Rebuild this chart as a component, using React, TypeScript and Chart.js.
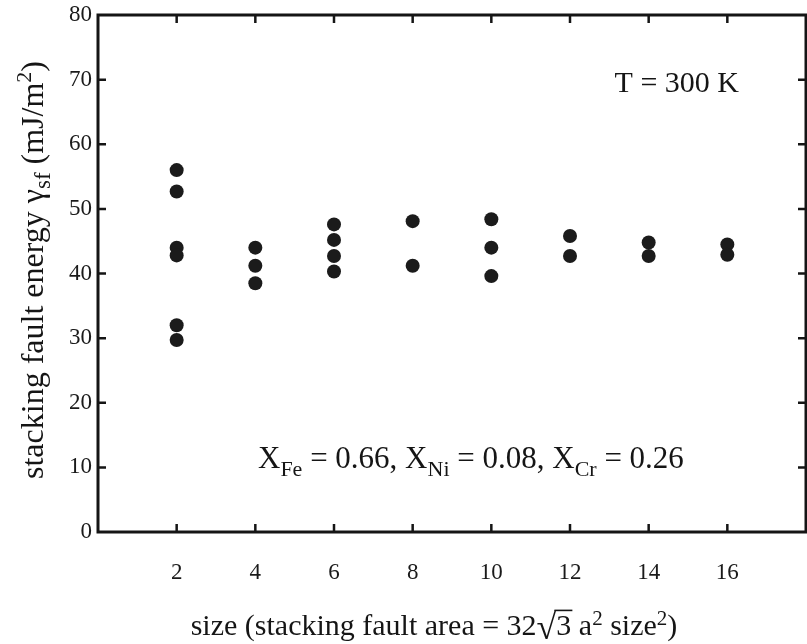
import React, { useEffect, useRef } from "react";
import { Chart, registerables } from "chart.js";

Chart.register(...registerables);

// Stacking fault energy (mJ/m^2) sampled at each fault size, T = 300 K
const faultSizes = [2, 4, 6, 8, 10, 12, 14, 16];
const gammaSize2 = [56.0, 52.7, 44.0, 42.8, 32.0, 29.7];
const gammaSize4 = [44.0, 41.2, 38.5];
const gammaSize6 = [47.6, 45.2, 42.7, 40.3];
const gammaSize8 = [48.1, 41.2];
const gammaSize10 = [48.4, 44.0, 39.6];
const gammaSize12 = [45.8, 42.7];
const gammaSize14 = [44.8, 42.7];
const gammaSize16 = [44.5, 42.9];
const gammaBySize = [
  gammaSize2,
  gammaSize4,
  gammaSize6,
  gammaSize8,
  gammaSize10,
  gammaSize12,
  gammaSize14,
  gammaSize16,
];

const xTickValues = [2, 4, 6, 8, 10, 12, 14, 16];
const yTickValues = [0, 10, 20, 30, 40, 50, 60, 70, 80];

const SERIF = "'Liberation Serif', 'Times New Roman', serif";
const INK = "#151515";

type Seg = { t: string; size: number; dy?: number; over?: boolean };

function segWidth(ctx: CanvasRenderingContext2D, segs: Seg[]) {
  let w = 0;
  for (const s of segs) {
    ctx.font = `${s.size}px ${SERIF}`;
    w += ctx.measureText(s.t).width;
  }
  return w;
}

// Draws a run of text pieces with sub/superscript offsets along the baseline
function drawRich(
  ctx: CanvasRenderingContext2D,
  segs: Seg[],
  x: number,
  y: number,
  align: "left" | "center" | "right"
) {
  const total = segWidth(ctx, segs);
  let cx = align === "left" ? x : align === "center" ? x - total / 2 : x - total;
  ctx.textAlign = "left";
  ctx.textBaseline = "alphabetic";
  for (const s of segs) {
    ctx.font = `${s.size}px ${SERIF}`;
    const w = ctx.measureText(s.t).width;
    ctx.fillText(s.t, cx, y + (s.dy || 0));
    if (s.over) {
      ctx.save();
      ctx.lineWidth = 1.6;
      ctx.beginPath();
      ctx.moveTo(cx - 2, y - s.size * 0.82);
      ctx.lineTo(cx + w + 1, y - s.size * 0.82);
      ctx.stroke();
      ctx.restore();
    }
    cx += w;
  }
}

const framePlugin = {
  id: "frameAndLabels",
  afterDraw(chart: any) {
    const { ctx, chartArea } = chart;
    const xs = chart.scales.x;
    const ys = chart.scales.y;
    const { left, right, top, bottom } = chartArea;
    ctx.save();
    ctx.strokeStyle = INK;
    ctx.fillStyle = INK;

    // box
    ctx.lineWidth = 3;
    ctx.strokeRect(left, top, right - left, bottom - top);

    // inward ticks
    const tl = 8;
    ctx.lineWidth = 2.5;
    ctx.beginPath();
    for (const v of xTickValues) {
      const px = xs.getPixelForValue(v);
      ctx.moveTo(px, bottom);
      ctx.lineTo(px, bottom - tl);
      ctx.moveTo(px, top);
      ctx.lineTo(px, top + tl);
    }
    for (const v of yTickValues) {
      if (v === 0 || v === 80) continue;
      const py = ys.getPixelForValue(v);
      ctx.moveTo(left, py);
      ctx.lineTo(left + tl, py);
      ctx.moveTo(right, py);
      ctx.lineTo(right - tl, py);
    }
    ctx.stroke();

    // y axis title
    ctx.save();
    ctx.translate(43, 270);
    ctx.rotate(-Math.PI / 2);
    drawRich(
      ctx,
      [
        { t: "stacking fault energy γ", size: 32 },
        { t: "sf", size: 23, dy: 7 },
        { t: " (mJ/m", size: 32 },
        { t: "2", size: 22, dy: -12 },
        { t: ")", size: 32 },
      ],
      0,
      0,
      "center"
    );
    ctx.restore();

    // x axis title
    drawRich(
      ctx,
      [
        { t: "size (stacking fault area = 32", size: 30 },
        { t: "√", size: 36, dy: 4 },
        { t: "3", size: 30, over: true },
        { t: " a", size: 30 },
        { t: "2", size: 21, dy: -10 },
        { t: " size", size: 30 },
        { t: "2", size: 21, dy: -10 },
        { t: ")", size: 30 },
      ],
      434,
      635,
      "center"
    );

    // temperature note
    drawRich(ctx, [{ t: "T = 300 K", size: 30 }], 739, 92, "right");

    // composition note
    drawRich(
      ctx,
      [
        { t: "X", size: 31 },
        { t: "Fe", size: 22, dy: 8 },
        { t: " = 0.66, X", size: 31 },
        { t: "Ni", size: 22, dy: 8 },
        { t: " = 0.08, X", size: 31 },
        { t: "Cr", size: 22, dy: 8 },
        { t: " = 0.26", size: 31 },
      ],
      258,
      468,
      "left"
    );

    ctx.restore();
  },
};

function zeroPadding(scale: any) {
  scale.paddingLeft = 0;
  scale.paddingRight = 0;
  scale.paddingTop = 0;
  scale.paddingBottom = 0;
}

export default function App() {
  const canvasRef = useRef<HTMLCanvasElement | null>(null);

  useEffect(() => {
    const canvas = canvasRef.current;
    if (!canvas) return;

    const points: { x: number; y: number }[] = [];
    faultSizes.forEach((s, i) => {
      for (const g of gammaBySize[i]) points.push({ x: s, y: g });
    });

    const chart = new Chart(canvas, {
      type: "scatter",
      data: {
        datasets: [
          {
            data: points,
            backgroundColor: "#1b1b1b",
            borderColor: "#1b1b1b",
            borderWidth: 0,
            pointRadius: 7,
            pointHoverRadius: 7,
          },
        ],
      },
      options: {
        animation: false,
        responsive: false,
        events: [],
        layout: {
          autoPadding: false,
          padding: { top: 15, right: 1, left: 0, bottom: 0 },
        },
        plugins: {
          legend: { display: false },
          tooltip: { enabled: false },
        },
        scales: {
          x: {
            type: "linear",
            min: 0,
            max: 18,
            border: { display: false },
            grid: { display: false, drawTicks: false },
            afterBuildTicks: (scale: any) => {
              scale.ticks = xTickValues.map((v) => ({ value: v }));
            },
            afterFit: (scale: any) => {
              scale.height = 112;
              zeroPadding(scale);
            },
            ticks: {
              padding: 27,
              color: "#1a1a1a",
              font: { family: SERIF, size: 23 },
            },
          },
          y: {
            type: "linear",
            min: 0,
            max: 80,
            border: { display: false },
            grid: { display: false, drawTicks: false },
            afterBuildTicks: (scale: any) => {
              scale.ticks = yTickValues.map((v) => ({ value: v }));
            },
            afterFit: (scale: any) => {
              scale.width = 98;
              zeroPadding(scale);
            },
            ticks: {
              padding: 6,
              color: "#1a1a1a",
              font: { family: SERIF, size: 23 },
            },
          },
        },
      },
      plugins: [framePlugin],
    });

    return () => chart.destroy();
  }, []);

  return (
    <div style={{ position: "fixed", left: 0, top: 0, width: 807, height: 644, background: "#fff" }}>
      <canvas ref={canvasRef} width={807} height={644} />
    </div>
  );
}
